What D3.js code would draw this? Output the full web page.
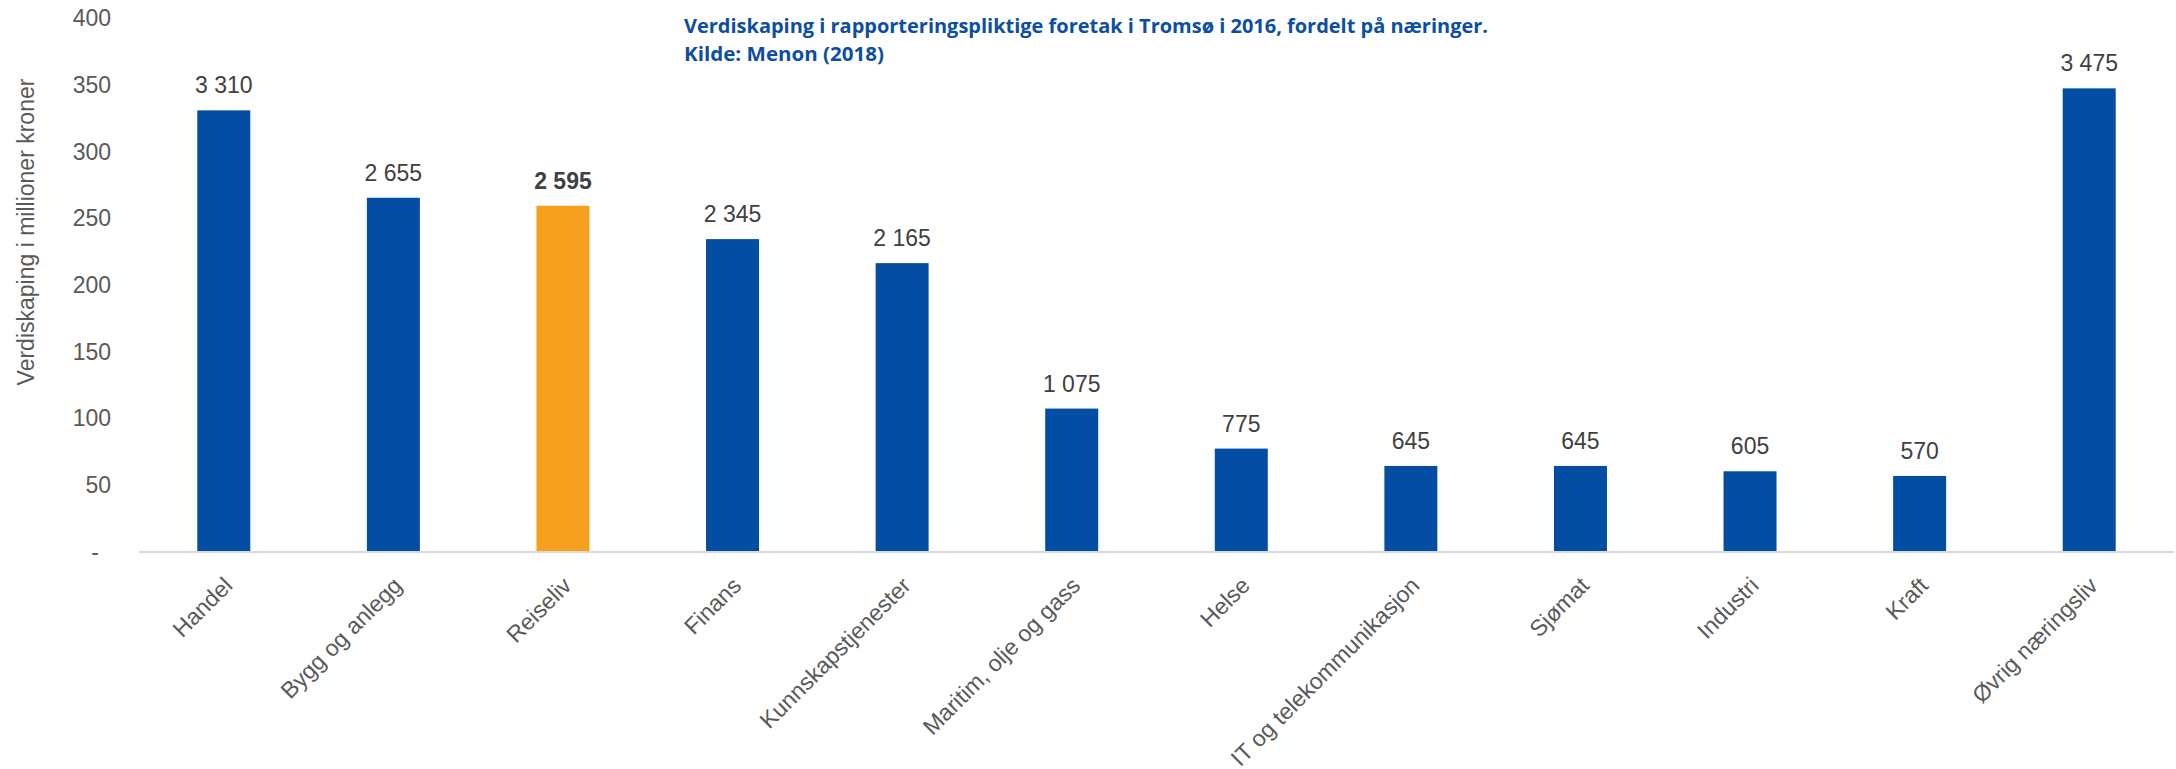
<!DOCTYPE html>
<html>
<head>
<meta charset="utf-8">
<script src="https://cdn.jsdelivr.net/npm/d3@7"></script>
<style>
  body { margin: 0; background: #fff; }
  text { font-family: "Liberation Sans", Arial, sans-serif; }
  text.title { font-family: "Open Sans", Lato, sans-serif; font-weight: bold; }
</style>
</head>
<body>
<div id="chart"></div>
<script>
// Data (millioner kroner)
const categories = ["Handel", "Bygg og anlegg", "Reiseliv", "Finans", "Kunnskapstjenester",
    "Maritim, olje og gass", "Helse", "IT og telekommunikasjon", "Sjømat", "Industri", "Kraft",
    "Øvrig næringsliv"];
const values = [3310, 2655, 2595, 2345, 2165, 1075, 775, 645, 645, 605, 570, 3475];
const highlighted = ["Reiseliv"];
const yTickValues = [0, 500, 1000, 1500, 2000, 2500, 3000, 3500, 4000];
const yTickLabels = ["-", "50", "100", "150", "200", "250", "300", "350", "400"];
const titleLines = ["Verdiskaping i rapporteringspliktige foretak i Tromsø i 2016, fordelt på næringer.",
    "Kilde: Menon (2018)"];
const yTitle = "Verdiskaping i millioner kroner";

const width = 2176, height = 769;
const plotLeft = 139, plotRight = 2174, plotTop = 18.3, plotBottom = 552;

const svg = d3.select("#chart")
    .append("svg")
    .attr("width", width)
    .attr("height", height);

// Scales
const x = d3.scaleBand()
    .domain(categories)
    .range([plotLeft, plotRight])
    .paddingInner(0.6875)
    .paddingOuter(0.34375);

const y = d3.scaleLinear()
    .domain([0, 4000])
    .range([plotBottom, plotTop]);

// Bars
svg.selectAll("rect.bar")
    .data(categories)
    .enter()
    .append("rect")
    .attr("class", "bar")
    .attr("x", d => x(d))
    .attr("width", x.bandwidth())
    .attr("y", (d, i) => y(values[i]))
    .attr("height", (d, i) => y(0) - y(values[i]))
    .attr("fill", d => highlighted.includes(d) ? "#f79f1f" : "#034ea2");

// Value labels
const fmt = v => d3.format(",")(v).replace(/,/g, " ");
svg.selectAll("text.value")
    .data(categories)
    .enter()
    .append("text")
    .attr("class", "value")
    .attr("x", d => x(d) + x.bandwidth() / 2)
    .attr("y", (d, i) => y(values[i]) - 17)
    .attr("text-anchor", "middle")
    .attr("font-size", 23)
    .attr("font-weight", d => highlighted.includes(d) ? "bold" : "normal")
    .attr("fill", "#404040")
    .text((d, i) => fmt(values[i]));

// Y axis
const yAxis = svg.append("g")
    .attr("transform", "translate(111,0)")
    .call(d3.axisLeft(y)
        .tickValues(yTickValues)
        .tickSize(0)
        .tickPadding(0)
        .tickFormat((d, i) => yTickLabels[i]));
yAxis.select(".domain").remove();
yAxis.selectAll("text")
    .attr("font-size", 23)
    .attr("fill", "#595959")
    .attr("dx", d => d === 0 ? -12 : 0);

// X axis
const xAxis = svg.append("g")
    .attr("transform", "translate(0," + plotBottom + ")")
    .call(d3.axisBottom(x).tickSize(0).tickPadding(0));
xAxis.select(".domain")
    .attr("d", "M" + plotLeft + ",0H" + plotRight)
    .attr("stroke", "#d9d9d9")
    .attr("stroke-width", 2);
xAxis.selectAll(".tick text")
    .attr("font-size", 23)
    .attr("fill", "#595959")
    .attr("text-anchor", "end")
    .attr("x", 0)
    .attr("y", 0)
    .attr("dy", 0)
    .attr("transform", "translate(10,35) rotate(-45)");

// Y axis title
svg.append("text")
    .attr("transform", "translate(34,232) rotate(-90)")
    .attr("text-anchor", "middle")
    .attr("font-size", 23)
    .attr("fill", "#595959")
    .text(yTitle);

// Title
const titleWidths = [804, 200];
svg.selectAll("text.title")
    .data(titleLines)
    .enter()
    .append("text")
    .attr("class", "title")
    .attr("x", 684)
    .attr("y", (d, i) => 33.3 + i * 27.7)
    .attr("font-size", 19.5)
    .attr("textLength", (d, i) => titleWidths[i])
    .attr("lengthAdjust", "spacingAndGlyphs")
    .attr("fill", "#0b4ea2")
    .text(d => d);
</script>
</body>
</html>
